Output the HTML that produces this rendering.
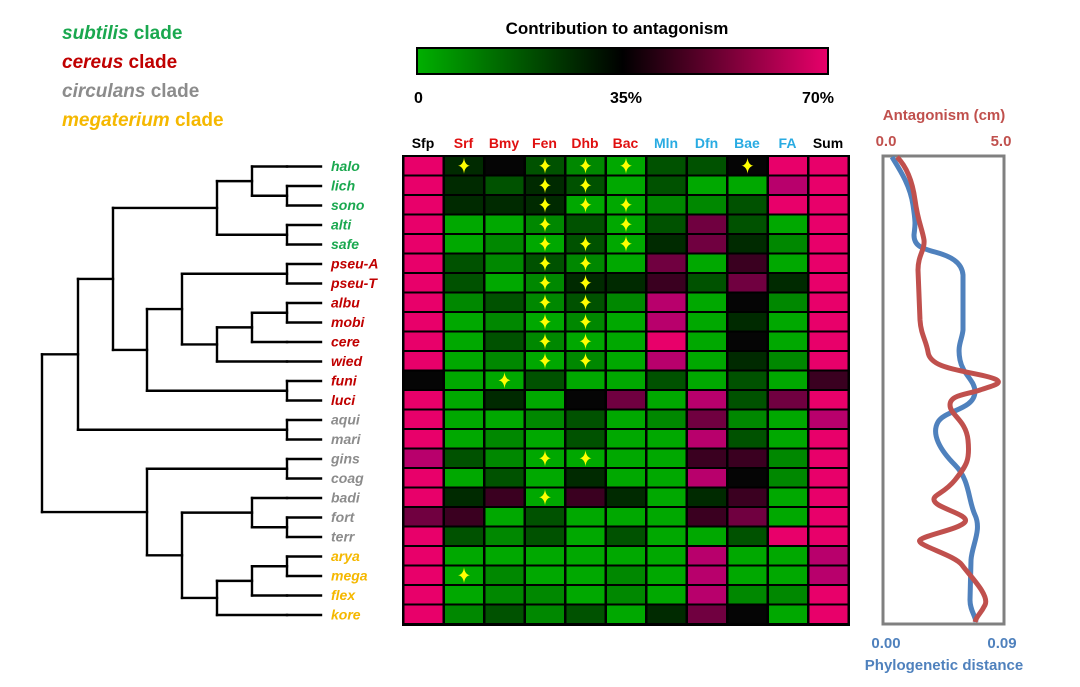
<!DOCTYPE html>
<html><head><meta charset="utf-8"><style>
body{margin:0;background:#fff;width:1080px;height:687px;overflow:hidden;font-family:"Liberation Sans",Arial,sans-serif}
svg{display:block}
</style></head><body>
<svg id="s" width="1080" height="687" xmlns="http://www.w3.org/2000/svg" font-family="Liberation Sans, Arial, sans-serif">
<defs><linearGradient id="cb" x1="0" x2="1"><stop offset="0" stop-color="#00b000"/><stop offset="0.5" stop-color="#000"/><stop offset="1" stop-color="#e8006a"/></linearGradient></defs>
<g font-weight="bold" font-size="19">
<text x="62" y="39" fill="#1aa84f"><tspan font-style="italic">subtilis</tspan> clade</text>
<text x="62" y="68" fill="#c00000"><tspan font-style="italic">cereus</tspan> clade</text>
<text x="62" y="97" fill="#8c8c8c"><tspan font-style="italic">circulans</tspan> clade</text>
<text x="62" y="126" fill="#f5b800"><tspan font-style="italic">megaterium</tspan> clade</text>
</g>
<text x="617" y="34" font-size="17" font-weight="bold" text-anchor="middle">Contribution to antagonism</text>
<rect x="417" y="48" width="411" height="26" fill="url(#cb)" stroke="#000" stroke-width="2"/>
<g font-size="16" font-weight="bold"><text x="414" y="103">0</text><text x="626" y="103" text-anchor="middle">35%</text><text x="834" y="103" text-anchor="end">70%</text></g>
<g id="hdr" font-size="14" font-weight="bold" text-anchor="middle"></g>
<rect x="402" y="155" width="448" height="471" fill="#000"/>
<g id="cells"></g>
<g id="tree" stroke="#000" stroke-width="2.4" fill="none"></g>
<g id="labs" font-size="14" font-weight="bold" font-style="italic"></g>
<text x="944" y="120" font-size="15" font-weight="bold" fill="#c0504d" text-anchor="middle">Antagonism (cm)</text>
<text x="886" y="146" font-size="15" font-weight="bold" fill="#c0504d" text-anchor="middle">0.0</text>
<text x="1001" y="146" font-size="15" font-weight="bold" fill="#c0504d" text-anchor="middle">5.0</text>
<rect x="883" y="156" width="121" height="468" fill="none" stroke="#808080" stroke-width="3"/>
<path d="M892,157 C900,170 910,185 913,205 S915,225 914,235 C914,245 920,248 935,252 S962,262 963,275 L963,330 C962,340 957,345 960,360 S975,380 975,392 C974,410 945,410 938,422 S940,450 955,465 S968,500 975,515 S972,545 971,560 L970,600 C970,610 975,615 976,622" stroke="#4f81bd" stroke-width="5" fill="none"/>
<path d="M897,157 C905,165 912,178 915,200 S922,228 924,240 C925,250 918,255 918,270 L920,320 C921,335 926,340 928,352 C930,368 960,370 985,376 S995,385 980,390 S950,395 950,405 S966,420 968,440 S967,465 955,480 S930,495 935,502 S970,515 965,522 S925,535 920,540 S955,555 962,565 S990,595 985,605 S977,615 975,622" stroke="#c0504d" stroke-width="5" fill="none"/>
<text x="886" y="648" font-size="15" font-weight="bold" fill="#4f81bd" text-anchor="middle">0.00</text>
<text x="1002" y="648" font-size="15" font-weight="bold" fill="#4f81bd" text-anchor="middle">0.09</text>
<text x="944" y="670" font-size="15" font-weight="bold" fill="#4f81bd" text-anchor="middle">Phylogenetic distance</text>
</svg>
<script>
var NS="http://www.w3.org/2000/svg";
function el(p,t,a,txt){var e=document.createElementNS(NS,t);for(var k in a)e.setAttribute(k,a[k]);if(txt)e.textContent=txt;document.getElementById(p).appendChild(e);}
var C={P:"#e8006a",G:"#00a800",g:"#008800",d:"#005200",D:"#002a00",K:"#050505",k:"#3a0020",m:"#700040",M:"#b8006c"};
var hd=[["Sfp","#000"],["Srf","#e01010"],["Bmy","#e01010"],["Fen","#e01010"],["Dhb","#e01010"],["Bac","#e01010"],["Mln","#29abe2"],["Dfn","#29abe2"],["Bae","#29abe2"],["FA","#29abe2"],["Sum","#000"]];
hd.forEach(function(h,i){el("hdr","text",{x:423+40.5*i,y:148,fill:h[1]},h[0]);});
var R=[["halo","PDKdgGddKPP","13458"],["lich","PDdDdGdGGMP","34"],["sono","PDDDGGggdPP","345"],["alti","PGGgdGdmdGP","35"],["safe","PGgGdGDmDgP","345"],
["pseu-A","PdgdgGmGkGP","34"],["pseu-T","PdGgDDkdmDP","34"],["albu","PgdgdgMGKgP","34"],["mobi","PGgGgGMGDGP","34"],["cere","PGdgGGPGKGP","34"],["wied","PGgGgGMGDgP","34"],
["funi","KGGdGGdGdGk","2"],["luci","PGDGKmGMdmP",""],["aqui","PGGgdGgmgGM",""],["mari","PGgGdGGMdGP",""],["gins","MdgGGGGkkgP","34"],["coag","PGdGDGGMKgP",""],
["badi","PDkGkDGDkGP","3"],["fort","mkGdGGGkmGP",""],["terr","PdgdGdGGdPP",""],["arya","PGGGGGGMGGM",""],["mega","PGgGGgGMGGM","1"],["flex","PGggGgGMggP",""],["kore","PgdgdGDmKGP",""]];
var clr=["#1aa84f","#1aa84f","#1aa84f","#1aa84f","#1aa84f","#c00000","#c00000","#c00000","#c00000","#c00000","#c00000","#c00000","#c00000","#8c8c8c","#8c8c8c","#8c8c8c","#8c8c8c","#8c8c8c","#8c8c8c","#8c8c8c","#f5b800","#f5b800","#f5b800","#f5b800"];
R.forEach(function(r,i){var y=157+19.5*i;
 for(var c=0;c<11;c++){el("cells","rect",{x:404.5+40.5*c,y:y,width:38,height:17.5,fill:C[r[1][c]]});}
 r[2].split("").forEach(function(s){var cx=423.5+40.5*(+s),cy=y+8.7;
  el("cells","path",{d:"M"+cx+","+(cy-8)+" Q"+(cx+0.8)+","+(cy-0.8)+" "+(cx+6)+","+cy+" Q"+(cx+0.8)+","+(cy+0.8)+" "+cx+","+(cy+8)+" Q"+(cx-0.8)+","+(cy+0.8)+" "+(cx-6)+","+cy+" Q"+(cx-0.8)+","+(cy-0.8)+" "+cx+","+(cy-8)+"Z",fill:"#ffff00"});});
 el("labs","text",{x:331,y:y+14,fill:clr[i]},r[0]);
});
function Y(i){return 166.5+19.5*i;}
var segs=[];
function node(x,a,b,px){segs.push([x,a,x,b]);var m=(a+b)/2;segs.push([px,m,x,m]);return m;}
for(var i=0;i<24;i++)segs.push([287,Y(i),321,Y(i)]);
function leaf(i,x){segs.push([x,Y(i),287,Y(i)]);}
var n1=node(287,Y(1),Y(2),252);
var n2=node(252,Y(0),n1,217); leaf(0,252);
var n3=node(287,Y(3),Y(4),217);
var n4=node(217,n2,n3,113);
var n5=node(287,Y(5),Y(6),182);
var n6=node(287,Y(7),Y(8),252);
var n7=node(252,n6,Y(9),217); leaf(9,252);
var n8=node(217,n7,Y(10),182); leaf(10,217);
var n9=node(182,n5,n8,147);
var n10=node(287,Y(11),Y(12),147);
var n11=node(147,n9,n10,113);
var n12=node(113,n4,n11,78);
var n13=node(287,Y(13),Y(14),78);
var n14=node(78,n12,n13,42);
var n15=node(287,Y(15),Y(16),147);
var n16=node(287,Y(18),Y(19),252);
var n17=node(252,Y(17),n16,182); leaf(17,252);
var n18=node(287,Y(20),Y(21),252);
var n19=node(252,n18,Y(22),217); leaf(22,252);
var n20=node(217,n19,Y(23),182); leaf(23,217);
var n21=node(182,n17,n20,147);
var n22=node(147,n15,n21,42);
segs.push([42,n14,42,n22]);
segs.forEach(function(s){el("tree","line",{x1:s[0],y1:s[1],x2:s[2],y2:s[3],"stroke-linecap":"square"});});
</script>
</body></html>
